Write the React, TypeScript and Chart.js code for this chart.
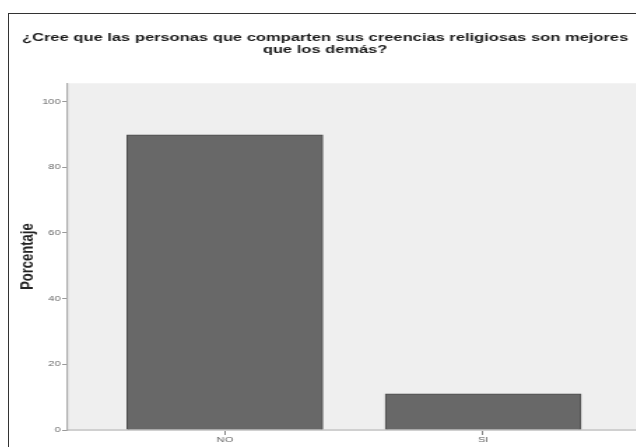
import React, { useEffect, useRef } from "react";
import { Chart, registerables } from "chart.js";

Chart.register(...registerables);

const titleLines = [
  "¿Cree que las personas que comparten sus creencias religiosas son mejores",
  "que los demás?",
];
const categories = ["NO", "SI"];
const percentages = [89.8, 11.0];
const yTicks = [0, 20, 40, 60, 80, 100];
const yAxisTitle = "Porcentaje";

const STRETCH = 635 / 454;

const plotBg = {
  id: "plotBg",
  beforeDraw(chart: any) {
    const { ctx, chartArea: a } = chart;
    ctx.save();
    ctx.fillStyle = "#efefef";
    ctx.fillRect(a.left, a.top, a.right - a.left, a.bottom - a.top);
    ctx.restore();
  },
};

export default function App() {
  const ref = useRef<HTMLCanvasElement>(null);
  useEffect(() => {
    document.body.style.overflow = "hidden";
    const chart = new Chart(ref.current!, {
      type: "bar",
      data: {
        datasets: [
          {
            data: categories.map((c, i) => ({ x: i, y: percentages[i] })),
            backgroundColor: "#686868",
            borderColor: "#4a4a4a",
            borderWidth: 1,
            barThickness: 140,
          },
        ],
      },
      plugins: [plotBg],
      options: {
        animation: false,
        responsive: false,
        maintainAspectRatio: false,
        layout: { padding: { left: 0, right: 2, top: 0, bottom: 0 } },
        plugins: {
          legend: { display: false },
          tooltip: { enabled: false },
          title: {
            display: true,
            text: titleLines,
            color: "#1a1a1a",
            font: { family: "Liberation Sans, Arial", size: 11.8, weight: "bold", lineHeight: 1.07 },
            padding: { top: 17, bottom: 27 },
          },
        },
        scales: {
          x: {
            type: "linear",
            offset: false,
            min: -0.6085,
            max: 1.612,
            afterBuildTicks: (s: any) => {
              s.ticks = categories.map((_, i) => ({ value: i }));
            },
            afterFit: (s: any) => {
              s.height = 17;
            },
            ticks: {
              callback: (v: any) => categories[v] ?? "",
              color: "#666",
              font: { family: "Liberation Sans, Arial", size: 8 },
              padding: 0,
              maxRotation: 0,
              autoSkip: false,
            },
            grid: { offset: false, drawOnChartArea: false, tickLength: 5, tickColor: "#888", tickWidth: 1 },
            border: { color: "#d0d0d0", width: 2 },
          },
          y: {
            min: 0,
            max: 105.5,
            afterBuildTicks: (s: any) => {
              s.ticks = yTicks.map((v) => ({ value: v }));
            },
            afterFit: (s: any) => {
              s.width = 42;
            },
            ticks: {
              color: "#666",
              font: { family: "Liberation Sans, Arial", size: 8 },
              padding: 1,
            },
            grid: { drawOnChartArea: false, tickLength: 4, tickColor: "#999", tickWidth: 1 },
            border: { color: "#aaa", width: 1.2 },
            title: {
              display: true,
              text: yAxisTitle,
              color: "#222",
              font: { family: "Liberation Sans, Arial", size: 13, weight: "bold", lineHeight: 1.2 },
              padding: { top: 6, bottom: 0 },
            },
          },
        },
      },
    });
    return () => chart.destroy();
  }, []);
  return (
    <div
      style={{
        marginTop: 5,
        width: 636,
        height: 434,
        borderLeft: "1px solid #333",
        borderTop: "1px solid #333",
        boxSizing: "border-box",
        overflow: "hidden",
      }}
    >
      <canvas
        ref={ref}
        width={454}
        height={433}
        style={{
          display: "block",
          width: 454,
          height: 433,
          transform: `scaleX(${STRETCH})`,
          transformOrigin: "0 0",
        }}
      />
    </div>
  );
}
